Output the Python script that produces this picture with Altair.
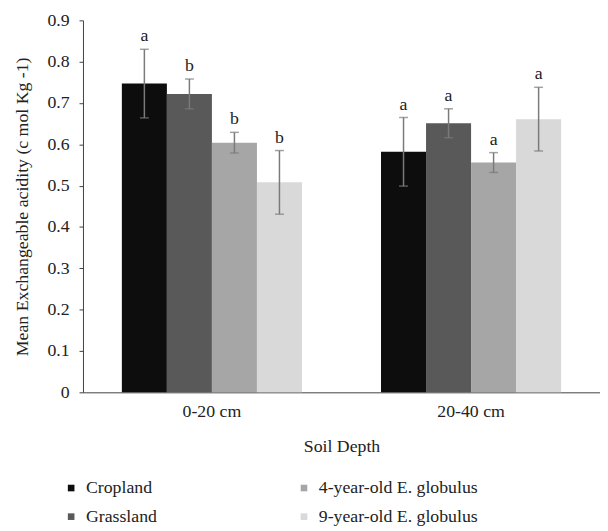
import altair as alt
import pandas as pd

depths = ["0-20 cm", "20-40 cm"]
land_uses = ["Cropland", "Grassland", "4-year-old E. globulus", "9-year-old E. globulus"]
colors = ["#0d0d0d", "#595959", "#a6a6a6", "#d9d9d9"]
means_0_20 = [0.747, 0.722, 0.604, 0.508]
errs_0_20 = [0.083, 0.036, 0.025, 0.077]
letters_0_20 = ["a", "b", "b", "b"]
means_20_40 = [0.582, 0.651, 0.556, 0.661]
errs_20_40 = [0.083, 0.035, 0.024, 0.077]
letters_20_40 = ["a", "a", "a", "a"]

rows = []
for depth, means, errs, letters in [
    (depths[0], means_0_20, errs_0_20, letters_0_20),
    (depths[1], means_20_40, errs_20_40, letters_20_40),
]:
    for lu, m, e, l in zip(land_uses, means, errs, letters):
        rows.append({"depth": depth, "land": lu, "mean": m,
                     "lo": m - e, "hi": m + e, "letter": l})
df = pd.DataFrame(rows)

FONT = "Liberation Serif"
FS = 18

x_enc = alt.X("depth:N", sort=depths, title="Soil Depth",
              scale=alt.Scale(paddingInner=0.305, paddingOuter=0.15),
              axis=alt.Axis(labelAngle=0, ticks=False, domainColor="#404040",
                            labelPadding=11, titlePadding=17))
xoff = alt.XOffset("land:N", sort=land_uses, scale=alt.Scale(paddingInner=0, paddingOuter=0))
y_scale = alt.Scale(domain=[0, 0.9], nice=False)

bars = alt.Chart(df).mark_bar().encode(
    x=x_enc,
    xOffset=xoff,
    y=alt.Y("mean:Q", scale=y_scale,
            title="Mean Exchangeable acidity (c mol Kg -1)",
            axis=alt.Axis(values=[0, 0.1, 0.2, 0.3, 0.4, 0.5, 0.6, 0.7, 0.8, 0.9],
                          labelExpr="datum.value == 0 ? '0' : format(datum.value, '.1f')",
                          grid=False, tickSize=4, tickColor="#404040",
                          domainColor="#404040", labelPadding=10, titlePadding=16)),
    color=alt.Color("land:N",
                    scale=alt.Scale(domain=land_uses, range=colors),
                    legend=alt.Legend(title=None, orient="none", legendX=-21, legendY=465,
                                      columns=2, columnPadding=140, rowPadding=11,
                                      symbolType="square", symbolSize=45, labelOffset=6,
                                      symbolStrokeWidth=0, labelFontSize=FS, labelLimit=400,
                                      labelFont=FONT, labelColor="#222222")),
)

rule = alt.Chart(df).mark_rule(color="#7a7a7a", strokeWidth=1.5).encode(
    x=alt.X("depth:N", sort=depths), xOffset=xoff,
    y=alt.Y("lo:Q", scale=y_scale), y2="hi:Q")

cap_hi = alt.Chart(df).mark_tick(color="#7a7a7a", orient="horizontal", size=9, thickness=1.5).encode(
    x=alt.X("depth:N", sort=depths), xOffset=xoff, y=alt.Y("hi:Q", scale=y_scale))
cap_lo = alt.Chart(df).mark_tick(color="#7a7a7a", orient="horizontal", size=9, thickness=1.5).encode(
    x=alt.X("depth:N", sort=depths), xOffset=xoff, y=alt.Y("lo:Q", scale=y_scale))

letters = alt.Chart(df).mark_text(font=FONT, fontSize=FS, baseline="bottom", dy=-4,
                                  color="#222222").encode(
    x=alt.X("depth:N", sort=depths), xOffset=xoff,
    y=alt.Y("hi:Q", scale=y_scale), text="letter:N")

chart = alt.layer(bars, rule, cap_hi, cap_lo, letters).properties(
    width=524, height=377, padding={"left": 5, "top": 0, "right": 0, "bottom": 0}
).configure_view(stroke=None).configure_axis(
    labelFont=FONT, titleFont=FONT, labelFontSize=FS, titleFontSize=FS,
    labelColor="#222222", titleColor="#222222", titleFontWeight="normal"
)

chart.save("out.html", embed_options={"renderer": "svg", "actions": False})
